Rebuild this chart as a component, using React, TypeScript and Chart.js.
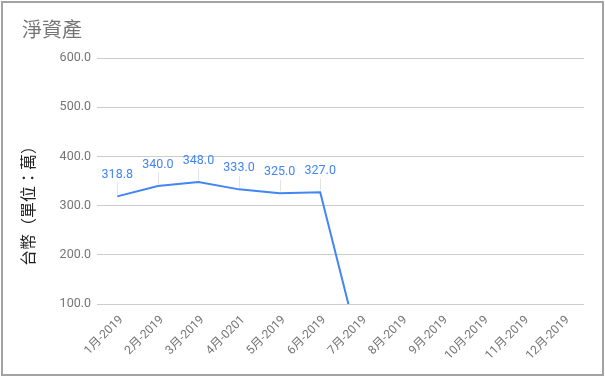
import React, { useEffect, useRef } from "react";
import { Chart, registerables } from "chart.js";

Chart.register(...registerables);

const chartTitle = "淨資產";
const yAxisTitle = "台幣（單位：萬）";
const categories = [
  "1月-2019", "2月-2019", "3月-2019", "4月-0201", "5月-2019", "6月-2019",
  "7月-2019", "8月-2019", "9月-2019", "10月-2019", "11月-2019", "12月-2019",
];
const netAssets: (number | null)[] = [318.8, 340.0, 348.0, 333.0, 325.0, 327.0, 0, null, null, null, null, null];
const labelledCount = 6;
const yMin = 100;
const yMax = 600;
const yStep = 100;

const FONT = "Roboto, 'Noto Sans CJK TC', sans-serif";
const BLUE = "#4285f4";

const overlayPlugin = {
  id: "overlay",
  afterDatasetsDraw(chart: any) {
    const ctx = chart.ctx;
    const meta = chart.getDatasetMeta(0);
    ctx.save();
    // data labels with leader lines
    ctx.font = `12.5px ${FONT}`;
    ctx.textAlign = "center";
    ctx.textBaseline = "middle";
    for (let i = 0; i < labelledCount; i++) {
      const v = netAssets[i];
      if (v == null) continue;
      const pt = meta.data[i];
      const ly = pt.y - 21.5;
      ctx.strokeStyle = "#e3e3e3";
      ctx.lineWidth = 1;
      ctx.beginPath();
      ctx.moveTo(Math.round(pt.x) + 0.5, ly + 8);
      ctx.lineTo(Math.round(pt.x) + 0.5, pt.y - 2);
      ctx.stroke();
      ctx.fillStyle = BLUE;
      ctx.fillText(v.toFixed(1), pt.x, ly);
    }
    // chart title
    ctx.font = `20px ${FONT}`;
    ctx.fillStyle = "#757575";
    ctx.textAlign = "left";
    ctx.fillText(chartTitle, 22, 32);
    // y axis title
    ctx.translate(30, 202);
    ctx.rotate(-Math.PI / 2);
    ctx.font = `16px ${FONT}`;
    ctx.fillStyle = "#222222";
    ctx.textAlign = "center";
    ctx.fillText(yAxisTitle, 0, 0);
    ctx.restore();
  },
};

export default function App() {
  const ref = useRef<HTMLCanvasElement | null>(null);
  useEffect(() => {
    document.body.style.margin = "0";
    const chart = new Chart(ref.current as HTMLCanvasElement, {
      type: "line",
      data: {
        labels: categories,
        datasets: [
          {
            data: netAssets,
            borderColor: BLUE,
            backgroundColor: BLUE,
            borderWidth: 2,
            pointRadius: 0,
            tension: 0,
            spanGaps: false,
          },
        ],
      },
      options: {
        animation: false,
        responsive: false,
        layout: { padding: { left: 22, right: 21, top: 58, bottom: 0 } },
        plugins: {
          legend: { display: false },
          tooltip: { enabled: false },
          title: { display: false },
        },
        scales: {
          x: {
            offset: true,
            grid: { display: false, drawTicks: false },
            border: { display: false },
            ticks: {
              autoSkip: false,
              minRotation: 45,
              maxRotation: 45,
              padding: 9,
              labelOffset: 4,
              color: "#757575",
              font: { family: FONT, size: 12 },
            },
            afterFit: (s: any) => {
              s.height = 72;
            },
          },
          y: {
            min: yMin,
            max: yMax,
            grid: { color: "#cccccc", drawTicks: false },
            border: { display: false },
            ticks: {
              stepSize: yStep,
              padding: 6,
              color: "#757575",
              font: { family: FONT, size: 12.5 },
              callback: (v: any) => Number(v).toFixed(1),
            },
            afterFit: (s: any) => {
              s.width = 75;
            },
          },
        },
      },
      plugins: [overlayPlugin],
    });
    return () => chart.destroy();
  }, []);
  return (
    <div style={{ position: "relative", width: 605, height: 376, background: "#fff" }}>
      <canvas ref={ref} width={605} height={376} style={{ display: "block" }} />
      <div
        style={{
          position: "absolute",
          left: 1,
          top: 1,
          width: 599,
          height: 371,
          border: "2px solid #a3a3a3",
          pointerEvents: "none",
        }}
      />
    </div>
  );
}
